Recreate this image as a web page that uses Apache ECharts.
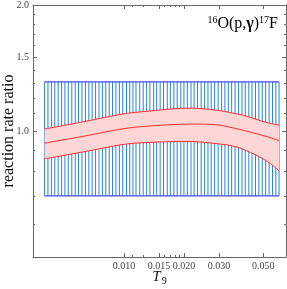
<!DOCTYPE html>
<html><head><meta charset="utf-8">
<script src="https://cdn.jsdelivr.net/npm/echarts@6/dist/echarts.min.js"></script>
<style>html,body{margin:0;padding:0;background:#fff}#c{width:287px;height:289px}</style>
</head><body><div id="c"></div>
<script>
// Temperature grid (T9) of the uncertainty envelope (vertical lines)
const gridT9 = [0.00400,0.00416,0.00433,0.00450,0.00468,0.00487,0.00506,0.00526,0.00548,0.00570,
  0.00592,0.00616,0.00641,0.00667,0.00693,0.00721,0.00750,0.00780,0.00811,0.00844,
  0.00877,0.00912,0.00949,0.00987,0.0103,0.0107,0.0111,0.0115,0.0120,0.0125,
  0.0130,0.0135,0.0141,0.0146,0.0152,0.0158,0.0165,0.0171,0.0178,0.0185,
  0.0193,0.0200,0.0208,0.0217,0.0225,0.0234,0.0244,0.0254,0.0264,0.0274,
  0.0285,0.0297,0.0309,0.0321,0.0334,0.0347,0.0361,0.0376,0.0391,0.0406,
  0.0423,0.0439,0.0457,0.0475,0.0494,0.0514,0.0535,0.0556,0.0578,0.0600];
const envelopeHigh = 1.31;
const envelopeLow = 0.70;

// Red band: rate ratio (upper, recommended, lower)
const curveT9 =      [0.004, 0.0063, 0.010, 0.0135, 0.017, 0.022, 0.029, 0.035, 0.041, 0.0515, 0.060];
const upperRatio =   [1.011, 1.053, 1.099, 1.116, 1.128, 1.134, 1.122, 1.104, 1.086, 1.049, 1.033];
const centralRatio = [0.935, 0.972, 1.013, 1.028, 1.035, 1.039, 1.035, 1.018, 1.000, 0.971, 0.948];
const lowerRatio =   [0.858, 0.892, 0.929, 0.939, 0.943, 0.944, 0.933, 0.921, 0.898, 0.850, 0.803];

// Ticks
const xTickValues = [0.010, 0.015, 0.020, 0.030, 0.050];
const xMinorTicks = [0.011, 0.0125, 0.016, 0.017, 0.018, 0.019];
const yTickValues = [1.0, 1.5, 2.0];
const yMinorTicks = [0.6, 0.7, 0.8, 0.9, 1.1, 1.2, 1.3, 1.4, 1.6, 1.7, 1.8, 1.9];

const FONT = 'Liberation Serif';
const AXC = '#666';
const RED = '#ff2a2a';
const chart = echarts.init(document.getElementById('c'), null, {renderer: 'canvas'});

function xAx(pos, ticks, len, showLine, showLabel) {
  return {
    type: 'log', logBase: 10, min: 0.0035, max: 0.065, position: pos,
    axisLine: {show: showLine, lineStyle: {color: AXC, width: 1}},
    axisTick: {show: true, inside: true, length: len, customValues: ticks, lineStyle: {color: AXC, width: 1}},
    axisLabel: showLabel ? {show: true, customValues: ticks, formatter: v => Number(v).toFixed(3),
      fontFamily: FONT, fontSize: 10, color: '#444', margin: 4} : {show: false},
    splitLine: {show: false}, minorTick: {show: false}
  };
}
function yAx(pos, ticks, len, showLine, showLabel) {
  return {
    type: 'log', logBase: 10, min: 0.5, max: 2.0, position: pos,
    axisLine: {show: showLine, lineStyle: {color: AXC, width: 1}},
    axisTick: {show: true, inside: true, length: len, customValues: ticks, lineStyle: {color: AXC, width: 1}},
    axisLabel: showLabel ? {show: true, customValues: ticks, formatter: v => Number(v).toFixed(1),
      fontFamily: FONT, fontSize: 10, color: '#444', margin: 4} : {show: false},
    splitLine: {show: false}, minorTick: {show: false}
  };
}

const xAxes = [xAx('bottom', xTickValues, 4, true, true), xAx('top', xTickValues, 4, true, false),
               xAx('bottom', xMinorTicks, 2, false, false), xAx('top', xMinorTicks, 2, false, false)];
xAxes[0].name = '{t|T}{s|9}';
xAxes[0].nameLocation = 'middle';
xAxes[0].nameGap = 11;
xAxes[0].nameMoveOverlap = false;
xAxes[0].nameTextStyle = {rich: {
  t: {fontFamily: FONT, fontStyle: 'italic', fontSize: 15, color: '#111'},
  s: {fontFamily: FONT, fontSize: 10, color: '#111', padding: [8, 0, 0, 1]}
}};
const yAxes = [yAx('left', yTickValues, 4, true, true), yAx('right', yTickValues, 4, true, false),
               yAx('left', yMinorTicks, 2, false, false), yAx('right', yMinorTicks, 2, false, false)];
yAxes[0].name = 'reaction rate ratio';
yAxes[0].nameLocation = 'middle';
yAxes[0].nameGap = 16;
yAxes[0].nameMoveOverlap = false;
yAxes[0].nameTextStyle = {fontFamily: FONT, fontSize: 16, color: '#111'};

// Smooth path (Catmull-Rom -> cubic Bezier) through pixel points
function smoothSegs(pts, startWithMove) {
  let d = startWithMove ? 'M' + pts[0][0] + ',' + pts[0][1] : 'L' + pts[0][0] + ',' + pts[0][1];
  for (let i = 0; i < pts.length - 1; i++) {
    const p0 = pts[Math.max(i - 1, 0)], p1 = pts[i], p2 = pts[i + 1], p3 = pts[Math.min(i + 2, pts.length - 1)];
    const c1 = [p1[0] + (p2[0] - p0[0]) / 6, p1[1] + (p2[1] - p0[1]) / 6];
    const c2 = [p2[0] - (p3[0] - p1[0]) / 6, p2[1] - (p3[1] - p1[1]) / 6];
    d += 'C' + c1[0] + ',' + c1[1] + ' ' + c2[0] + ',' + c2[1] + ' ' + p2[0] + ',' + p2[1];
  }
  return d;
}

chart.setOption({
  animation: false,
  grid: {left: 33, right: 1, top: 5, bottom: 32, containLabel: false, outerBoundsMode: 'none'},
  xAxis: xAxes,
  yAxis: yAxes,
  graphic: [{
    type: 'text', right: 9, top: 15,
    style: {
      text: '{sup|16}{m|O(p,}{g|γ}{m|)}{sup|17}{m|F}',
      rich: {
        m: {fontFamily: FONT, fontSize: 16, color: '#111'},
        g: {fontFamily: FONT, fontSize: 16, fontWeight: 'bold', color: '#111'},
        sup: {fontFamily: FONT, fontSize: 10, color: '#111', padding: [0, 0, 8, 0]}
      }
    }
  }],
  series: [
    {
      type: 'custom', xAxisIndex: 0, yAxisIndex: 0, z: 1, silent: true,
      data: gridT9.map(t => [t, envelopeLow, envelopeHigh]),
      encode: {x: 0, y: [1, 2]},
      renderItem: (params, api) => {
        const p1 = api.coord([api.value(0), api.value(1)]);
        const p2 = api.coord([api.value(0), api.value(2)]);
        return {type: 'line', shape: {x1: p1[0], y1: p1[1], x2: p2[0], y2: p2[1]},
          style: {stroke: '#2784dc', lineWidth: 1}};
      }
    },
    {type: 'line', z: 2, showSymbol: false, symbol: 'none', silent: true,
     data: gridT9.map(t => [t, envelopeHigh]), lineStyle: {color: '#4b4bf7', width: 1.3}},
    {type: 'line', z: 2, showSymbol: false, symbol: 'none', silent: true,
     data: gridT9.map(t => [t, envelopeLow]), lineStyle: {color: '#4b4bf7', width: 1.3}},
    {
      type: 'custom', xAxisIndex: 0, yAxisIndex: 0, z: 3, silent: true,
      data: curveT9.map((t, i) => [t, lowerRatio[i], upperRatio[i], centralRatio[i]]),
      encode: {x: 0, y: [1, 2, 3]},
      renderItem: (params, api) => {
        if (params.dataIndex !== 0) return null;
        const up = curveT9.map((t, i) => api.coord([t, upperRatio[i]]));
        const lo = curveT9.map((t, i) => api.coord([t, lowerRatio[i]]));
        const mid = curveT9.map((t, i) => api.coord([t, centralRatio[i]]));
        const band = smoothSegs(up, true) + smoothSegs(lo.slice().reverse(), false) + 'Z';
        return {type: 'group', children: [
          {type: 'path', shape: {pathData: band}, style: {fill: '#ffd6d6', stroke: null}},
          {type: 'path', shape: {pathData: smoothSegs(up, true)}, style: {fill: null, stroke: RED, lineWidth: 1}},
          {type: 'path', shape: {pathData: smoothSegs(lo, true)}, style: {fill: null, stroke: RED, lineWidth: 1}},
          {type: 'path', shape: {pathData: smoothSegs(mid, true)}, style: {fill: null, stroke: RED, lineWidth: 1}}
        ]};
      }
    }
  ]
});
</script>
</body></html>
